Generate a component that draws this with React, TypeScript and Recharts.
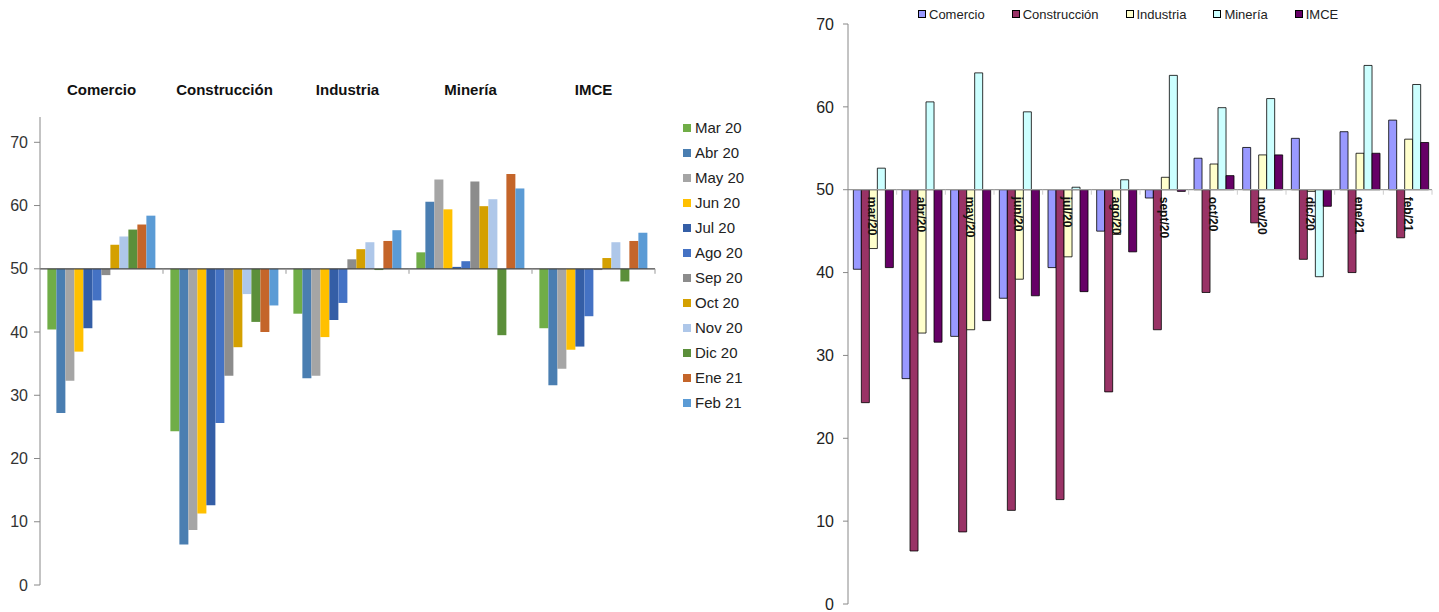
import { BarChart, Bar, XAxis, YAxis, ReferenceLine, Legend } from 'recharts';

const sectors = ['Comercio', 'Construcción', 'Industria', 'Minería', 'IMCE'];
const monthNames = ['Mar 20', 'Abr 20', 'May 20', 'Jun 20', 'Jul 20', 'Ago 20', 'Sep 20', 'Oct 20', 'Nov 20', 'Dic 20', 'Ene 21', 'Feb 21'];
const monthTicks = ['mar/20', 'abr/20', 'may/20', 'jun/20', 'jul/20', 'ago/20', 'sept/20', 'oct/20', 'nov/20', 'dic/20', 'ene/21', 'feb/21'];

const comercio = [40.4, 27.2, 32.3, 36.9, 40.6, 45.0, 49.0, 53.8, 55.1, 56.2, 57.0, 58.4];
const construccion = [24.3, 6.4, 8.7, 11.3, 12.6, 25.6, 33.1, 37.6, 46.0, 41.6, 40.0, 44.2];
const industria = [42.9, 32.7, 33.1, 39.2, 41.9, 44.6, 51.5, 53.1, 54.2, 49.8, 54.4, 56.1];
const mineria = [52.6, 60.6, 64.1, 59.4, 50.3, 51.2, 63.8, 59.9, 61.0, 39.5, 65.0, 62.7];
const imce = [40.6, 31.6, 34.2, 37.2, 37.7, 42.5, 49.8, 51.7, 54.2, 48.0, 54.4, 55.7];

const yTicks = [0, 10, 20, 30, 40, 50, 60, 70];

// colours: left chart by month, right chart by sector
const monthColors = ['#70AD47', '#4A7EB1', '#A5A5A5', '#FFC000', '#345EA6', '#4472C4', '#8C8C8C', '#D4A000', '#AEC7E9', '#5B8F3A', '#C4652A', '#5B9BD5'];
const sectorColors = ['#9999FF', '#993366', '#FFFFCC', '#CCFFFF', '#660066'];

const BASE = 50;
const font = '"Liberation Sans", Arial, sans-serif';

const series = [comercio, construccion, industria, mineria, imce];

const bySector = sectors.map((s, i) => ({ sector: s, values: series[i] }));
const byMonth = monthTicks.map((m, j) => {
  const row: Record<string, any> = { month: m };
  sectors.forEach((s, i) => { row[s] = series[i][j]; });
  return row;
});

const range = (v: number) => [Math.min(BASE, v), Math.max(BASE, v)];

// keep legend entries in series order
const ordered = (payload: any[] = [], names: string[]) =>
  [...payload].sort((a, b) => names.indexOf(a.value) - names.indexOf(b.value));

// baseline at 50 with tick marks at category boundaries (and optional labels)
function baseLine(count: number, stroke: string, tickColor: string, labels?: string[]) {
  return (props: any) => {
    const { x1, x2, y1 } = props;
    const band = (x2 - x1) / count;
    return (
      <g>
        <line x1={x1} x2={x2} y1={y1} y2={y1} stroke={stroke} strokeWidth={1.3} />
        {Array.from({ length: count }, (_, i) => (
          <line key={i} x1={x1 + band * (i + 1)} x2={x1 + band * (i + 1)} y1={y1} y2={y1 + 5} stroke={tickColor} />
        ))}
        {labels && labels.map((l, i) => {
          const cx = x1 + band * (i + 0.5);
          const ty = y1 + 7;
          return (
            <text key={l} x={cx} y={ty} transform={`rotate(90 ${cx} ${ty})`} dominantBaseline="central"
              fontSize={12} fontWeight="bold" fill="#111" fontFamily={font}>{l}</text>
          );
        })}
      </g>
    );
  };
}

const SectorTick = (props: any) => {
  const { x, payload } = props;
  return (
    <text x={x} y={95} textAnchor="middle" fontSize={15} fontWeight="bold" fill="#111" fontFamily={font}>
      {payload.value}
    </text>
  );
};

const MonthLegend = (props: any) => (
  <div style={{ width: 100, paddingLeft: 28, boxSizing: 'border-box', fontFamily: font, fontSize: 15, color: '#222' }}>
    {ordered(props.payload, monthNames).map((p: any) => (
      <div key={p.value} style={{ height: 25, display: 'flex', alignItems: 'center', whiteSpace: 'nowrap' }}>
        <span style={{ width: 8, height: 8, background: p.color, marginRight: 4, display: 'inline-block' }} />
        {p.value}
      </div>
    ))}
  </div>
);

const SectorLegend = (props: any) => (
  <div style={{ height: 20, display: 'flex', alignItems: 'center', gap: 27, fontFamily: font, fontSize: 13, color: '#222' }}>
    {ordered(props.payload, sectors).map((p: any) => (
      <div key={p.value} style={{ display: 'flex', alignItems: 'center', whiteSpace: 'nowrap' }}>
        <span style={{ width: 6, height: 6, background: p.color, border: '1px solid #000', marginRight: 3, display: 'inline-block' }} />
        {p.value}
      </div>
    ))}
  </div>
);

export default function App() {
  return (
    <div style={{ position: 'absolute', left: 0, top: 0, width: 1439, height: 612, background: '#fff' }}>
      <div style={{ position: 'absolute', left: 0, top: 0 }}>
        <BarChart width={790} height={612} data={bySector} margin={{ top: 87, right: 35, bottom: 27, left: 0 }}
          barCategoryGap="6%" barGap={0}>
          <XAxis dataKey="sector" orientation="top" height={30} axisLine={false} tickLine={false} tick={<SectorTick />} interval={0} />
          <YAxis domain={[0, 74]} ticks={yTicks} interval={0} width={40} stroke="#888" tickSize={6} tickMargin={6}
            tick={{ fill: '#333', fontSize: 16, fontFamily: font }} />
          {monthNames.map((m, j) => (
            <Bar key={m} name={m} dataKey={(d: any) => range(d.values[j])} fill={monthColors[j]} isAnimationActive={false} />
          ))}
          <ReferenceLine y={BASE} shape={baseLine(sectors.length, '#444', '#999')} />
          <Legend layout="vertical" align="right" verticalAlign="middle" content={<MonthLegend />}
            wrapperStyle={{ top: 115 }} />
        </BarChart>
      </div>
      <div style={{ position: 'absolute', left: 790, top: 0 }}>
        <BarChart width={649} height={612} data={byMonth} margin={{ top: 4, right: 7, bottom: 8, left: 0 }}
          barCategoryGap="11%" barGap={0}>
          <XAxis dataKey="month" hide />
          <YAxis domain={[0, 70]} ticks={yTicks} interval={0} width={58} stroke="#888" tickSize={5} tickMargin={9}
            tick={{ fill: '#222', fontSize: 16, fontFamily: font }} />
          {sectors.map((s, i) => (
            <Bar key={s} name={s} dataKey={(d: any) => range(d[s])} fill={sectorColors[i]} stroke="#000" strokeWidth={0.8}
              isAnimationActive={false} />
          ))}
          <ReferenceLine y={BASE} shape={baseLine(monthTicks.length, '#999', '#ccc', monthTicks)} />
          <Legend layout="horizontal" align="left" verticalAlign="top" content={<SectorLegend />}
            wrapperStyle={{ left: 128, top: 4, width: 'auto' }} />
        </BarChart>
      </div>
    </div>
  );
}
